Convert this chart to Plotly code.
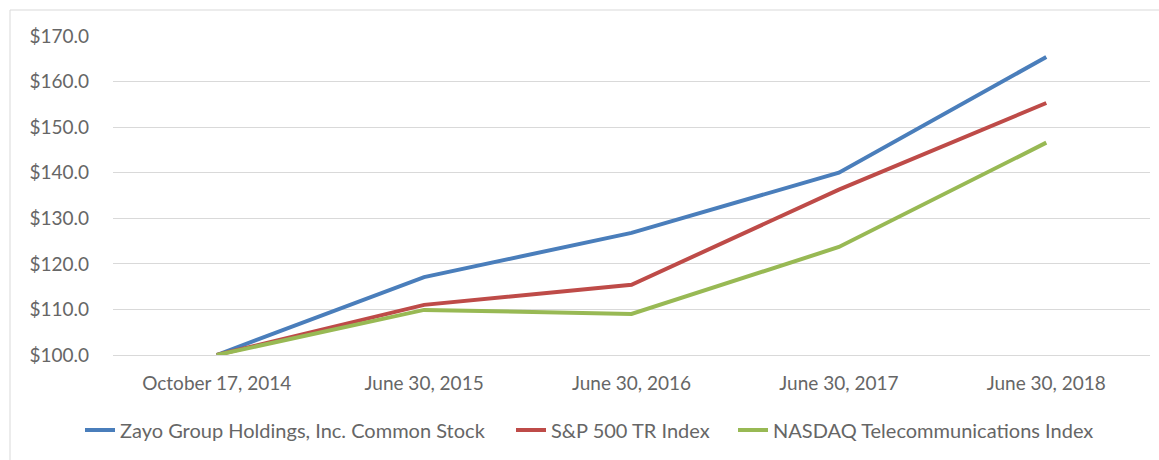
import plotly.graph_objects as go

categories = ["October 17, 2014", "June 30, 2015", "June 30, 2016", "June 30, 2017", "June 30, 2018"]
zayo = [100.0, 117.1, 126.8, 140.0, 165.4]
sp500 = [100.0, 111.0, 115.4, 136.3, 155.3]
nasdaq_tel = [100.0, 109.9, 109.0, 123.7, 146.6]
series_names = ["Zayo Group Holdings, Inc. Common Stock", "S&P 500 TR Index", "NASDAQ Telecommunications Index"]
colors = ["#4A7EBB", "#BE4B48", "#98B954"]
y_ticks = [100, 110, 120, 130, 140, 150, 160, 170]
y_ticktext = ["$%.1f" % v for v in y_ticks]

W, H = 1159, 460
L, R, T, B = 113, 9, 36, 105
pw = W - L - R
ph = H - T - B
txt = "#666666"

legend_ids = ["legend", "legend2", "legend3"]
legend_left_px = [80, 511, 733]

fig = go.Figure()
for name, vals, col, lg in zip(series_names, [zayo, sp500, nasdaq_tel], colors, legend_ids):
    fig.add_trace(go.Scatter(x=categories, y=vals, mode="lines", name=name, legend=lg,
                             line=dict(color=col, width=4)))

legend_layout = {}
for lg, px in zip(legend_ids, legend_left_px):
    legend_layout[lg] = dict(orientation="h", x=(px - L) / pw, xanchor="left",
                             y=(T + ph - 430) / ph, yanchor="middle",
                             font=dict(size=20, color=txt), bgcolor="rgba(0,0,0,0)")

fig.update_layout(
    width=W, height=H,
    margin=dict(l=L, r=R, t=T, b=B),
    paper_bgcolor="white", plot_bgcolor="white",
    font=dict(family="Lato, Carlito, Calibri, sans-serif", size=19, color=txt),
    showlegend=True,
    xaxis=dict(type="category", showgrid=False, showline=True, linecolor="#d9d9d9",
               linewidth=1, ticks="", ticklabelstandoff=11, range=[-0.5, 4.5]),
    yaxis=dict(range=[100, 170], tickvals=y_ticks, ticktext=y_ticktext,
               showgrid=True, gridcolor="#d9d9d9", gridwidth=1, zeroline=False,
               showline=False, ticks="", ticklabelstandoff=23),
    shapes=[dict(type="rect", xref="paper", yref="paper",
                 x0=(10 - L) / pw, x1=(W + 20 - L) / pw,
                 y0=(T + ph - (H + 20)) / ph, y1=(T + ph - 10) / ph,
                 line=dict(color="#d9d9d9", width=1), fillcolor="rgba(0,0,0,0)", layer="below")],
    **legend_layout,
)

fig.write_html("out.html", config={"displayModeBar": False},
               post_script="document.body.style.margin='0';")
